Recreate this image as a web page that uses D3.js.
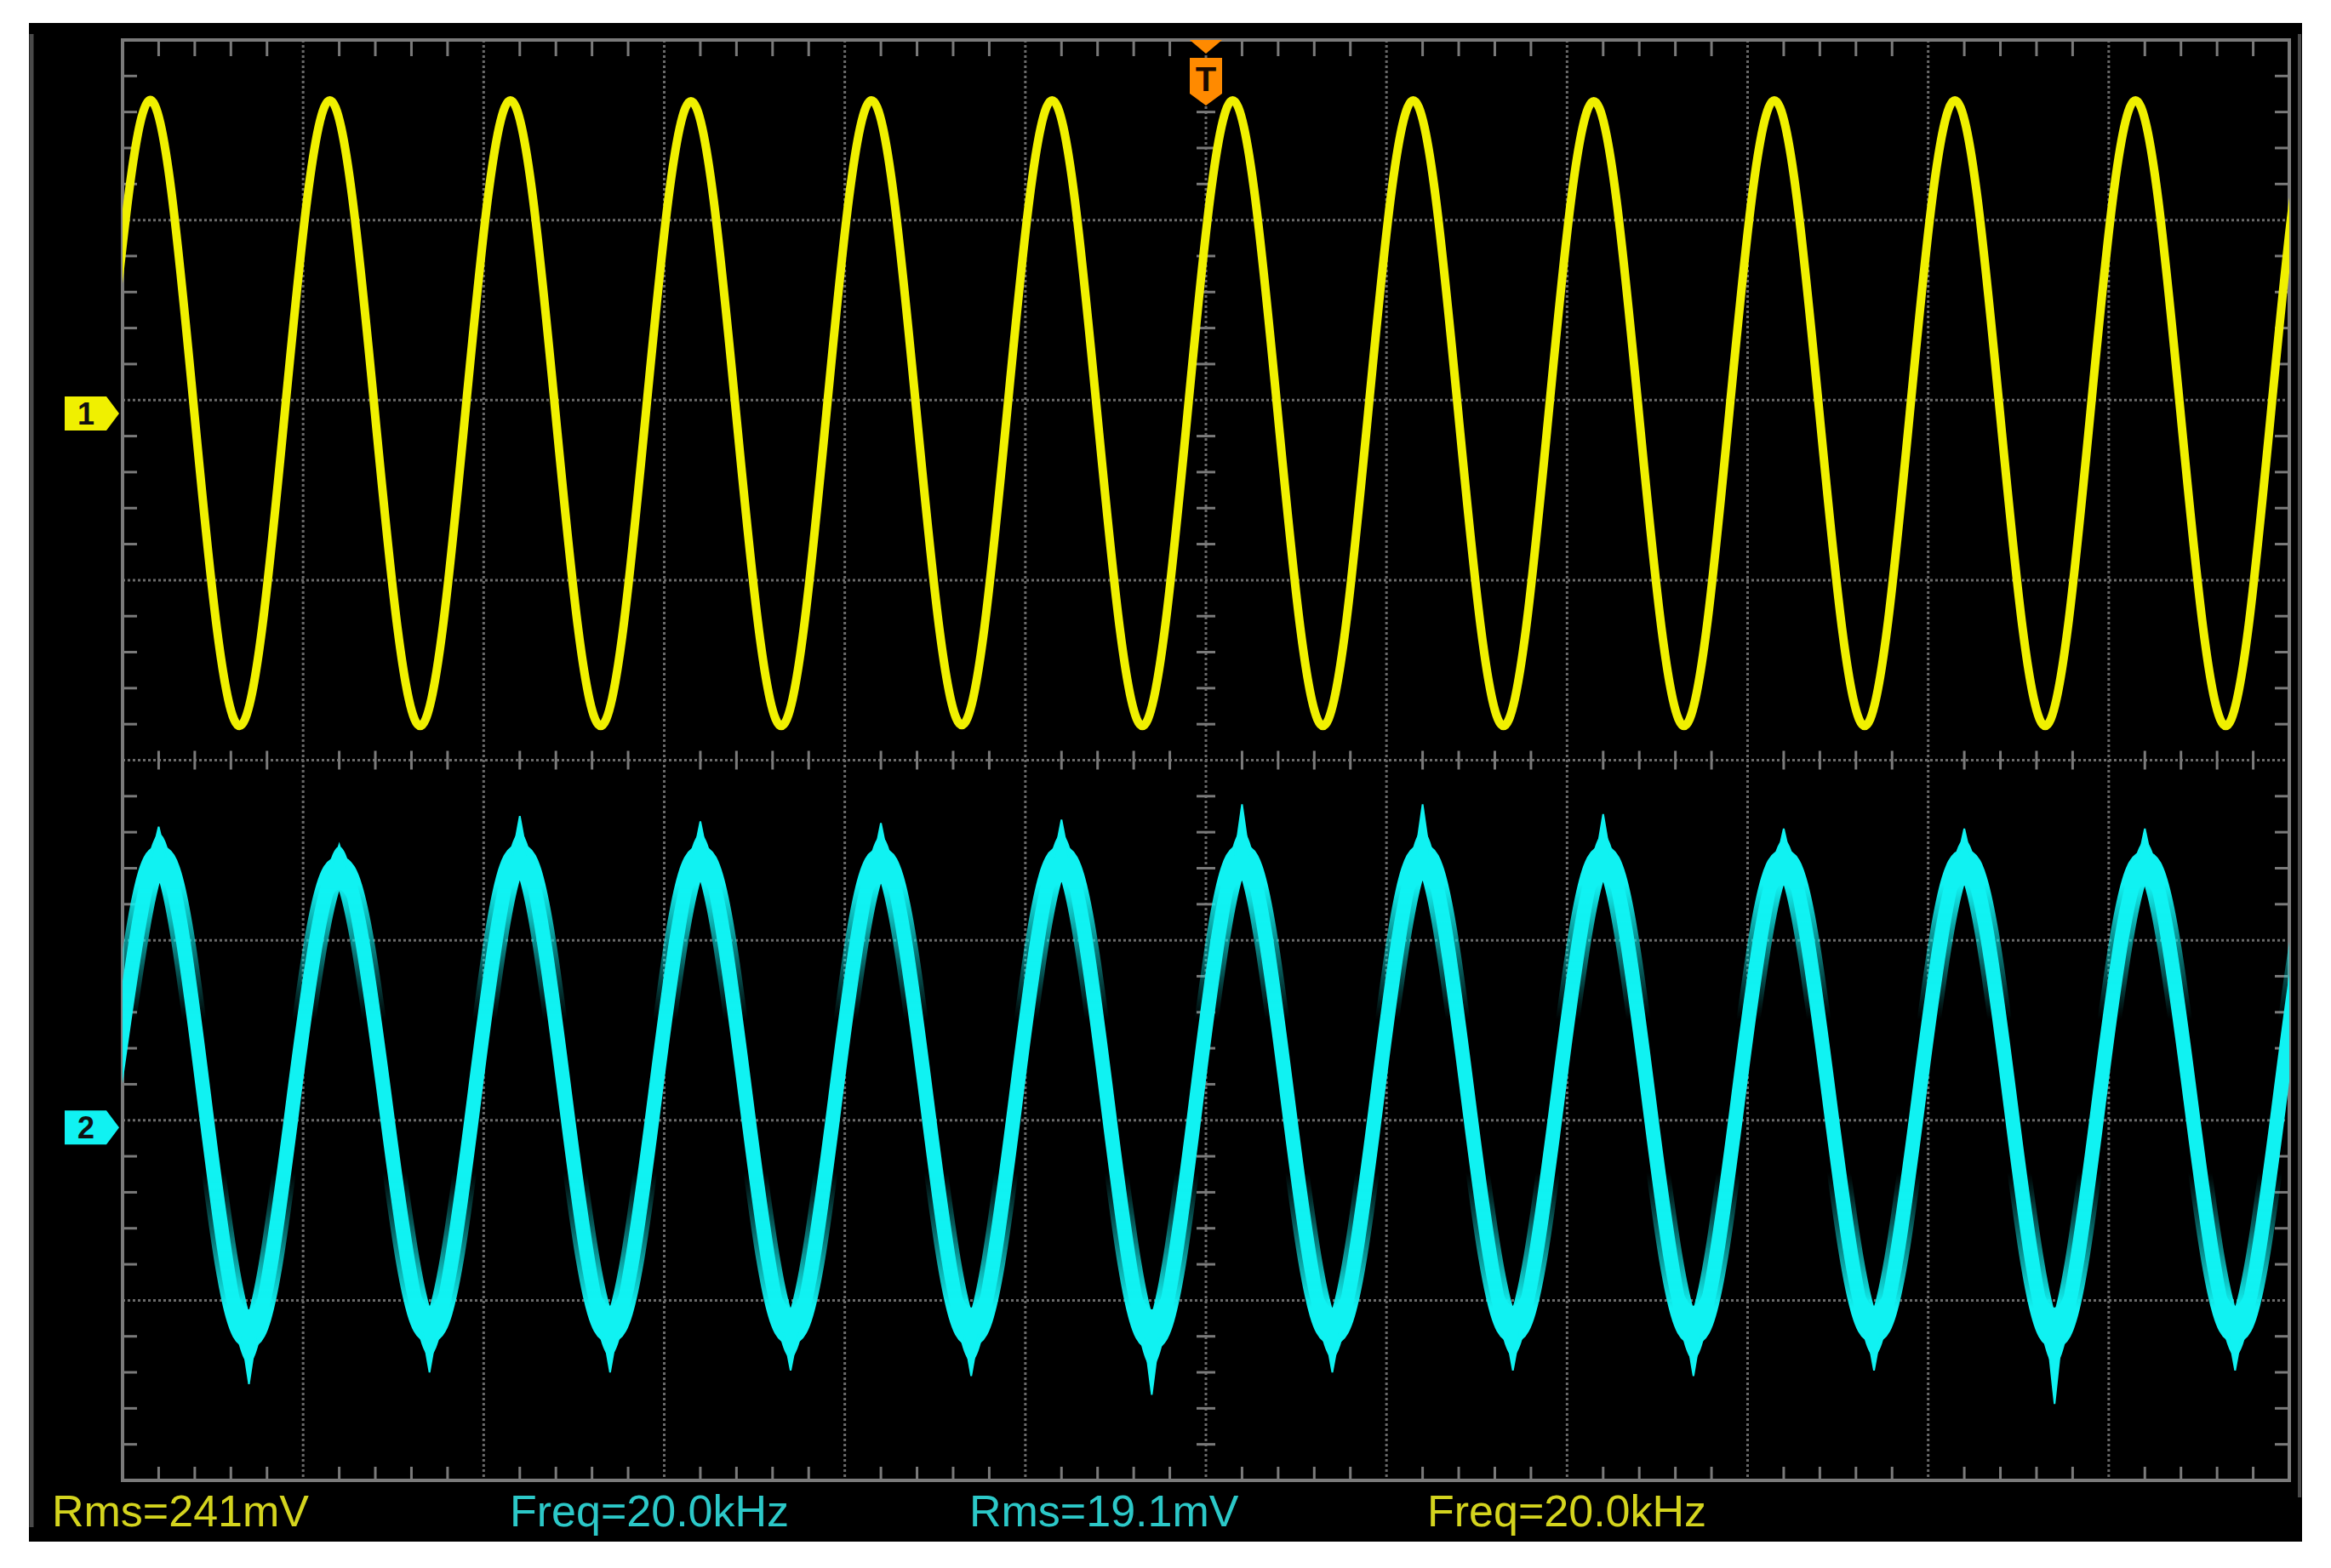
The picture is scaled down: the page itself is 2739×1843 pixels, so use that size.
<!DOCTYPE html>
<html>
<head>
<meta charset="utf-8">
<script src="https://cdn.jsdelivr.net/npm/d3@7"></script>
<style>
  html, body { margin: 0; background: #fff; }
  svg { display: block; }
</style>
</head>
<body>
<svg id="scope" width="2739" height="1843"></svg>
<script>
// time axis in microseconds (50 us/div, trigger at centre)
const TIME_RANGE = [-300, 300];
const DIVS_X = 12;
const DIVS_Y = 8;

// channel 1: 200 mV/div, ground marker 1.925 div above centre
// (first and last samples lie just outside the screen)
const CH1_SCALE = 200;
const CH1_OFFSET = 1.925;
const ch1Time = [-317.6, -305.1,
  -292.6, -280.1, -267.6, -255.1,
  -242.6, -230.1, -217.6, -205.1,
  -192.6, -180.1, -167.6, -155.1,
  -142.6, -130.1, -117.6, -105.1,
  -92.6, -80.1, -67.6, -55.1,
  -42.6, -30.1, -17.6, -5.1,
  7.4, 19.9, 32.4, 44.9,
  57.4, 69.9, 82.4, 94.9,
  107.4, 119.9, 132.4, 144.9,
  157.4, 169.9, 182.4, 194.9,
  207.4, 219.9, 232.4, 244.9,
  257.4, 269.9, 282.4, 294.9,
  307.4, 319.9];
const ch1Mv = [-347, 0,
  348, 0, -347, 0,
  348, 0, -347, 0,
  348, 0, -347, 0,
  347, 0, -347, 0,
  348, 0, -346, 0,
  348, 0, -347, 0,
  348, 0, -347, 0,
  348, 0, -347, 0,
  347, 0, -347, 0,
  348, 0, -347, 0,
  348, 0, -347, 0,
  348, 0, -347, 0,
  348, 0];

// channel 2: 20 mV/div, ground marker 2.04 div below centre
const CH2_SCALE = 20;
const CH2_OFFSET = -2.04;
const ch2Time = [-315, -302.5,
  -290, -277.5, -265, -252.5,
  -240, -227.5, -215, -202.5,
  -190, -177.5, -165, -152.5,
  -140, -127.5, -115, -102.5,
  -90, -77.5, -65, -52.5,
  -40, -27.5, -15, -2.5,
  10, 22.5, 35, 47.5,
  60, 72.5, 85, 97.5,
  110, 122.5, 135, 147.5,
  160, 172.5, 185, 197.5,
  210, 222.5, 235, 247.5,
  260, 272.5, 285, 297.5,
  310, 322.5];
const ch2Mv = [-23.0, 3.6,
  30.0, 3.6, -23.2, 3.6,
  28.8, 3.6, -22.6, 3.6,
  30.2, 3.6, -22.6, 3.6,
  30.0, 3.6, -22.8, 3.6,
  29.8, 3.6, -23.0, 3.6,
  30.0, 3.6, -23.4, 3.6,
  30.2, 3.6, -22.8, 3.6,
  30.2, 3.6, -22.6, 3.6,
  30.0, 3.6, -22.8, 3.6,
  29.6, 3.6, -22.6, 3.6,
  29.6, 3.6, -23.2, 3.6,
  29.4, 3.6, -22.6, 3.6,
  29.8, 3.6];
// half-width of the noise band (mV)
const ch2Noise = [3.0, 0.4,
  2.6, 0.4, 3.0, 0.4,
  2.4, 0.4, 2.8, 0.4,
  2.6, 0.4, 2.8, 0.4,
  2.6, 0.4, 2.8, 0.4,
  2.6, 0.4, 3.0, 0.4,
  2.6, 0.4, 3.2, 0.4,
  2.8, 0.4, 2.8, 0.4,
  2.8, 0.4, 2.8, 0.4,
  2.6, 0.4, 3.0, 0.4,
  2.4, 0.4, 2.8, 0.4,
  2.4, 0.4, 3.2, 0.4,
  2.4, 0.4, 2.8, 0.4,
  2.6, 0.4];
// noise spikes at peaks and troughs
const ch2PeakTime = [-290, -240, -190, -140, -90, -40, 10, 60, 110, 160, 210, 260];
const ch2PeakTip = [33.4, 31.4, 34.6, 34.0, 33.8, 34.2, 35.9, 35.9, 34.8, 33.2, 33.2, 33.2];
const ch2TroughTime = [-265, -215, -165, -115, -65, -15, 35, 85, 135, 185, 235, 285];
const ch2TroughTip = [-28.5, -27.2, -27.2, -27.0, -27.6, -29.7, -27.2, -27.0, -27.6, -27.0, -30.7, -27.0];
// noise thickens the trace towards the extremes: [level mV, visibility]
const ch2FuzzLevels = [[32, 1], [27, 1], [12, 0], [-5, 0], [-20, 1], [-26, 1]];

// readouts
const readouts = [
  { text: 'Rms=241mV', ch: 1 },
  { text: 'Freq=20.0kHz', ch: 2 },
  { text: 'Rms=19.1mV', ch: 2 },
  { text: 'Freq=20.0kHz', ch: 1 },
];

const YELLOW = '#f0f000';
const CYAN = '#10f2f2';
const GRID = '#6a6a6a';
const FRAME = '#7a7a7a';

const svg = d3.select('#scope');

const L = 144, R = 2690, T = 47, B = 1740;
const x = d3.scaleLinear().domain(TIME_RANGE).range([L, R]);
const gx = d3.scaleLinear().domain([-DIVS_X / 2, DIVS_X / 2]).range([L, R]);
const gy = d3.scaleLinear().domain([-DIVS_Y / 2, DIVS_Y / 2]).range([B, T]);
const y1 = (mv) => gy(CH1_OFFSET + mv / CH1_SCALE);
const y2 = (mv) => gy(CH2_OFFSET + mv / CH2_SCALE);

// screen
svg.append('rect').attr('x', 34).attr('y', 27).attr('width', 2671).attr('height', 1785).attr('fill', '#000');
svg.append('line').attr('x1', 37).attr('x2', 37).attr('y1', 40).attr('y2', 1795)
  .attr('stroke', '#4a4a4a').attr('stroke-width', 5);
svg.append('line').attr('x1', 2702).attr('x2', 2702).attr('y1', 40).attr('y2', 1760)
  .attr('stroke', '#4a4a4a').attr('stroke-width', 4);

// grid
const grid = svg.append('g');
const majorX = d3.range(-DIVS_X / 2 + 1, DIVS_X / 2);
const majorY = d3.range(-DIVS_Y / 2 + 1, DIVS_Y / 2);
grid.selectAll('line.vx').data(majorX).join('line')
  .attr('x1', gx).attr('x2', gx).attr('y1', T).attr('y2', B)
  .attr('stroke', GRID).attr('stroke-width', 3).attr('stroke-dasharray', '3 3');
grid.selectAll('line.hy').data(majorY).join('line')
  .attr('y1', gy).attr('y2', gy).attr('x1', L).attr('x2', R)
  .attr('stroke', GRID).attr('stroke-width', 3).attr('stroke-dasharray', '3 3');

const minorX = d3.range(-DIVS_X / 2, DIVS_X / 2 + 0.001, 0.2).filter((d) => Math.abs(d - Math.round(d)) > 0.01);
const minorY = d3.range(-DIVS_Y / 2, DIVS_Y / 2 + 0.001, 0.2).filter((d) => Math.abs(d - Math.round(d)) > 0.01);
const tick = (sel, data, attrs) => sel.append('g').selectAll('line').data(data).join('line')
  .call((s) => Object.entries(attrs).forEach(([k, v]) => s.attr(k, v)))
  .attr('stroke', FRAME).attr('stroke-width', 3);
tick(grid, minorX, { x1: gx, x2: gx, y1: T, y2: T + 19 });
tick(grid, minorX, { x1: gx, x2: gx, y1: B, y2: B - 16 });
tick(grid, minorX, { x1: gx, x2: gx, y1: gy(0) - 11, y2: gy(0) + 11 });
tick(grid, minorY, { y1: gy, y2: gy, x1: L, x2: L + 17 });
tick(grid, minorY, { y1: gy, y2: gy, x1: R, x2: R - 17 });
tick(grid, minorY, { y1: gy, y2: gy, x1: gx(0) - 11, x2: gx(0) + 11 });

grid.append('rect').attr('x', L).attr('y', T).attr('width', R - L).attr('height', B - T)
  .attr('fill', 'none').attr('stroke', FRAME).attr('stroke-width', 4);

// traces
const defs = svg.append('defs');
defs.append('clipPath').attr('id', 'clip').append('rect')
  .attr('x', L).attr('y', T - 20).attr('width', R - L).attr('height', B - T + 40);

const fTop = y2(ch2FuzzLevels[0][0]);
const fBot = y2(ch2FuzzLevels[ch2FuzzLevels.length - 1][0]);
const grad = defs.append('linearGradient').attr('id', 'fuzzGrad')
  .attr('gradientUnits', 'userSpaceOnUse')
  .attr('x1', 0).attr('x2', 0).attr('y1', fTop).attr('y2', fBot);
grad.selectAll('stop').data(ch2FuzzLevels).join('stop')
  .attr('offset', (d) => (y2(d[0]) - fTop) / (fBot - fTop))
  .attr('stop-color', '#fff').attr('stop-opacity', (d) => d[1]);
defs.append('mask').attr('id', 'fuzz').attr('maskUnits', 'userSpaceOnUse')
  .attr('x', L).attr('y', T).attr('width', R - L).attr('height', B - T)
  .append('rect').attr('x', L).attr('y', fTop - 100).attr('width', R - L)
  .attr('height', fBot - fTop + 200).attr('fill', 'url(#fuzzGrad)');

const traces = svg.append('g').attr('clip-path', 'url(#clip)');

const ch2Pts = ch2Time.map((t, i) => ({ t, v: ch2Mv[i], n: ch2Noise[i] }));
const ch2Line = d3.line().curve(d3.curveNatural).x((d) => x(d.t)).y((d) => y2(d.v));
traces.append('path').datum(ch2Pts)
  .attr('d', d3.area().curve(d3.curveNatural).x((d) => x(d.t))
    .y0((d) => y2(d.v - d.n)).y1((d) => y2(d.v + d.n)))
  .attr('fill', CYAN);
traces.append('path').datum(ch2Pts).attr('d', ch2Line)
  .attr('fill', 'none').attr('stroke', CYAN).attr('stroke-width', 17).attr('stroke-linejoin', 'round');
traces.append('g').attr('mask', 'url(#fuzz)')
  .append('path').datum(ch2Pts).attr('d', ch2Line)
  .attr('fill', 'none').attr('stroke', CYAN).attr('stroke-width', 28).attr('stroke-linejoin', 'round');

const spikes = ch2PeakTime.map((t, i) => ({ t, tip: ch2PeakTip[i], base: ch2Mv[ch2Time.indexOf(t)] }))
  .concat(ch2TroughTime.map((t, i) => ({ t, tip: ch2TroughTip[i], base: ch2Mv[ch2Time.indexOf(t)] })));
traces.selectAll('path.spike').data(spikes).join('path')
  .attr('d', (d) => d3.line()([[x(d.t - 2), y2(d.base)], [x(d.t), y2(d.tip)], [x(d.t + 2), y2(d.base)]]))
  .attr('fill', CYAN).attr('stroke', CYAN).attr('stroke-width', 2);

const ch1Pts = ch1Time.map((t, i) => ({ t, v: ch1Mv[i] }));
traces.append('path').datum(ch1Pts)
  .attr('d', d3.line().curve(d3.curveNatural).x((d) => x(d.t)).y((d) => y1(d.v)))
  .attr('fill', 'none').attr('stroke', YELLOW).attr('stroke-width', 10).attr('stroke-linejoin', 'round');

// channel ground markers
const marker = (yPos, fill, label) => {
  const g = svg.append('g').attr('transform', `translate(0,${yPos})`);
  g.append('path').attr('d', 'M76,-20 L125,-20 L140,0 L125,20 L76,20 Z').attr('fill', fill);
  g.append('text').attr('x', 101).attr('y', 13).attr('text-anchor', 'middle')
    .attr('font-family', 'Liberation Sans, Arial, sans-serif').attr('font-weight', 'bold')
    .attr('font-size', 36).attr('fill', '#111').text(label);
};
marker(y1(0), YELLOW, '1');
marker(y2(0), CYAN, '2');

// trigger marker
const trig = svg.append('g').attr('transform', `translate(${x(0)},${T})`);
trig.append('path').attr('d', 'M-19,0 L19,0 L0,16 Z').attr('fill', '#ff8a00');
trig.append('path').attr('d', 'M-19,21 L19,21 L19,63 L0,77 L-19,63 Z').attr('fill', '#ff8a00');
trig.append('text').attr('x', 0).attr('y', 60).attr('text-anchor', 'middle')
  .attr('font-family', 'Liberation Sans, Arial, sans-serif').attr('font-weight', 'bold')
  .attr('font-size', 40).attr('fill', '#1a0a00').text('T');

// readouts
const readX = [61, 599, 1139, 1677];
svg.selectAll('text.read').data(readouts).join('text')
  .attr('x', (d, i) => readX[i]).attr('y', 1794)
  .attr('font-family', 'Liberation Sans, Arial, sans-serif').attr('font-size', 52)
  .attr('fill', (d) => (d.ch === 1 ? '#d4d41e' : '#2cc8c8'))
  .text((d) => d.text);
</script>
</body>
</html>
